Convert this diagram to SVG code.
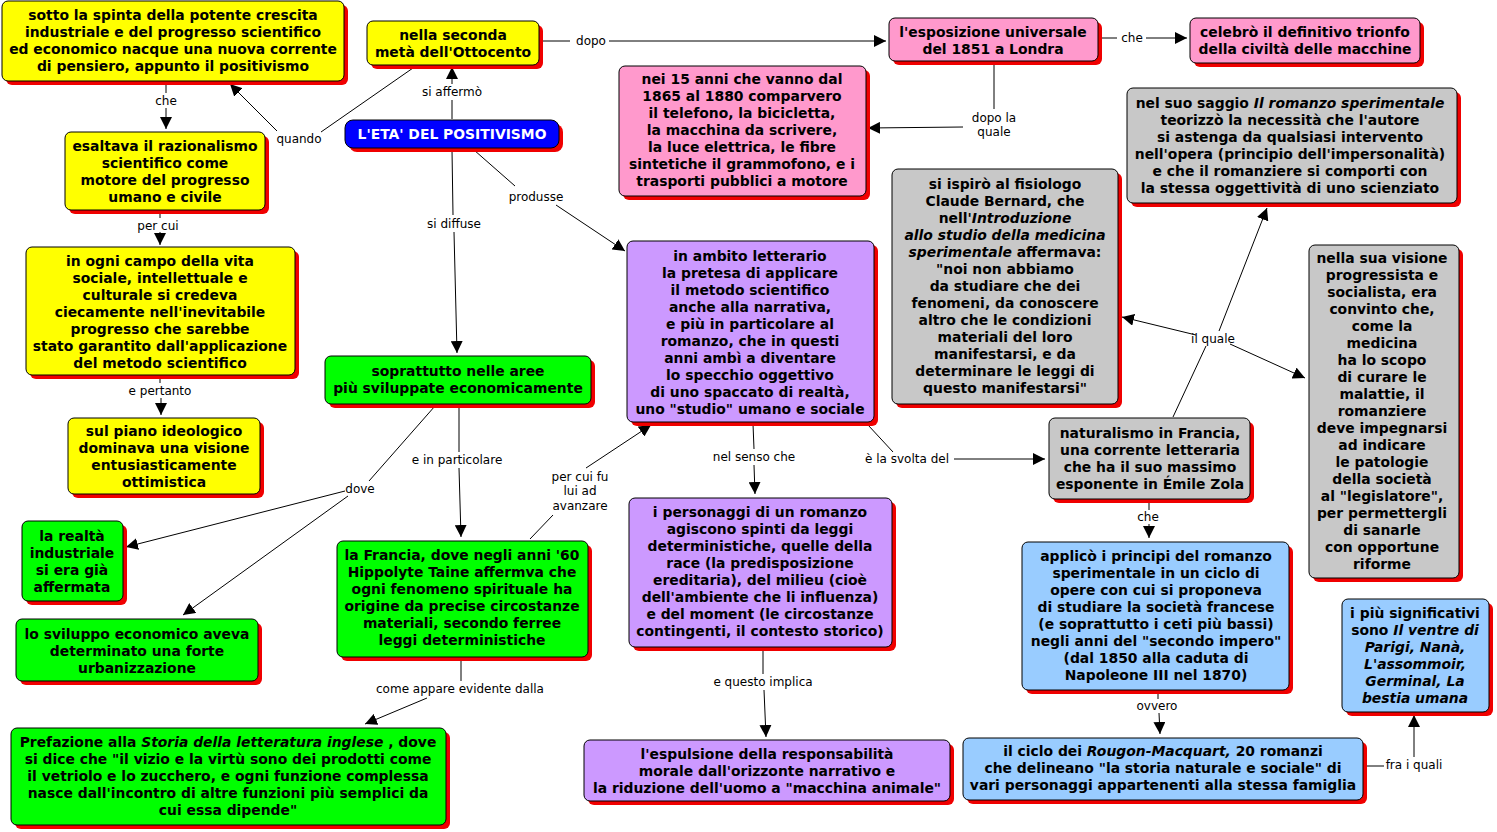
<svg xmlns="http://www.w3.org/2000/svg" width="1497" height="832" viewBox="0 0 1497 832">
<style>
.b{stroke:#000;stroke-width:1}
.s{fill:#f00000}
.y{fill:#ffff00}.p{fill:#ff99cc}.g{fill:#c8c8c8}.v{fill:#cc99ff}.gr{fill:#00ff00}.lb{fill:#99ccff}
.t{font-family:"DejaVu Sans",Verdana,sans-serif;font-weight:bold;font-size:13.9px;text-anchor:middle;fill:#000}
.l{font-family:"DejaVu Sans",Verdana,sans-serif;font-size:12px;text-anchor:middle;fill:#000}
.c{fill:none;stroke:#000;stroke-width:1}
.i{font-style:italic}
</style>
<defs>
<marker id="a" markerUnits="userSpaceOnUse" markerWidth="12" markerHeight="12" viewBox="0 0 10 10" refX="10" refY="5" orient="auto"><path d="M0,0 L10,5 L0,10 z" fill="#000"/></marker>
</defs>
<rect width="1497" height="832" fill="#fff"/>
<g id="connectors">
<path class="c" d="M166,83 V93"/><path class="c" d="M166,108 V129" marker-end="url(#a)"/><text class="l" x="166" y="105">che</text>
<path class="c" d="M160,212 V218"/><path class="c" d="M160,232 V245" marker-end="url(#a)"/><text class="l" x="158" y="230">per cui</text>
<path class="c" d="M160,377 V383"/><path class="c" d="M161,398 V415" marker-end="url(#a)"/><text class="l" x="160" y="395">e pertanto</text>
<path class="c" d="M452,119 V100"/><path class="c" d="M452,84 V67" marker-end="url(#a)"/><text class="l" x="452" y="96">si affermò</text>
<path class="c" d="M413,68 L321,132"/><path class="c" d="M277,131 L230,84" marker-end="url(#a)"/><text class="l" x="299" y="143">quando</text>
<path class="c" d="M540,41 H570"/><path class="c" d="M609,41 H886" marker-end="url(#a)"/><text class="l" x="591" y="45">dopo</text>
<path class="c" d="M1100,38 H1117"/><path class="c" d="M1146,38 H1187" marker-end="url(#a)"/><text class="l" x="1132" y="42">che</text>
<path class="c" d="M994,63 V109"/><path class="c" d="M963,127 L868,128" marker-end="url(#a)"/><text class="l" x="994" y="122">dopo la</text><text class="l" x="994" y="136">quale</text>
<path class="c" d="M474,150 L515,186"/><path class="c" d="M556,205 L625,251" marker-end="url(#a)"/><text class="l" x="536" y="201">produsse</text>
<path class="c" d="M452,150 L453,215"/><path class="c" d="M454,232 L457,353" marker-end="url(#a)"/><text class="l" x="454" y="228">si diffuse</text>
<path class="c" d="M435,406 L369,481"/><path class="c" d="M345,491 L126,547" marker-end="url(#a)"/><path class="c" d="M348,496 L183,615" marker-end="url(#a)"/><text class="l" x="360" y="493">dove</text>
<path class="c" d="M459,406 L459,452"/><path class="c" d="M459,468 L461,537" marker-end="url(#a)"/><text class="l" x="457" y="464">e in particolare</text>
<path class="c" d="M530,539 L553,515"/><path class="c" d="M586,468 L651,425" marker-end="url(#a)"/><text class="l" x="580" y="481">per cui fu</text><text class="l" x="580" y="495">lui ad</text><text class="l" x="580" y="510">avanzare</text>
<path class="c" d="M753,424 L754,449"/><path class="c" d="M754,465 L755,494" marker-end="url(#a)"/><text class="l" x="754" y="461">nel senso che</text>
<path class="c" d="M868,425 L893,452"/><path class="c" d="M954,459 H1045" marker-end="url(#a)"/><text class="l" x="907" y="463">è la svolta del</text>
<path class="c" d="M763,650 L763,674"/><path class="c" d="M764,690 L766,737" marker-end="url(#a)"/><text class="l" x="763" y="686">e questo implica</text>
<path class="c" d="M461,659 L461,681"/><path class="c" d="M427,698 L365,724" marker-end="url(#a)"/><text class="l" x="460" y="693">come appare evidente dalla</text>
<path class="c" d="M1173,417 L1206,346"/><path class="c" d="M1219,331 L1267,208" marker-end="url(#a)"/><path class="c" d="M1196,335 L1122,317" marker-end="url(#a)"/><path class="c" d="M1230,344 L1305,378" marker-end="url(#a)"/><text class="l" x="1213" y="343">il quale</text>
<path class="c" d="M1149,501 V510"/><path class="c" d="M1149,524 V538" marker-end="url(#a)"/><text class="l" x="1148" y="521">che</text>
<path class="c" d="M1158,692 V699"/><path class="c" d="M1159,713 L1160,734" marker-end="url(#a)"/><text class="l" x="1157" y="710">ovvero</text>
<path class="c" d="M1364,766 H1384"/><path class="c" d="M1414,757 V715" marker-end="url(#a)"/><text class="l" x="1414" y="769">fra i quali</text>
</g>
<g id="n_sotto"><rect class="s" x="6" y="5" width="342" height="80" rx="6"/><rect class="b y" x="2" y="1" width="342" height="80" rx="6"/><text class="t" x="173" y="20">sotto la spinta della potente crescita<tspan x="173" y="37">industriale e del progresso scientifico</tspan><tspan x="173" y="54">ed economico nacque una nuova corrente</tspan><tspan x="173" y="71">di pensiero, appunto il positivismo</tspan></text></g>
<g id="n_nella"><rect class="s" x="371" y="25" width="172" height="44" rx="6"/><rect class="b y" x="367" y="21" width="172" height="44" rx="6"/><text class="t" x="453" y="40">nella seconda<tspan x="453" y="57">metà dell'Ottocento</tspan></text></g>
<g id="n_eta"><rect class="s" x="349" y="124" width="214" height="28" rx="8"/><rect class="b" fill="#0000ff" x="345" y="120" width="214" height="28" rx="8"/><text class="t" x="452" y="139" style="fill:#fff">L'ETA' DEL POSITIVISMO</text></g>
<g id="n_esalt"><rect class="s" x="69" y="136" width="200" height="78" rx="6"/><rect class="b y" x="65" y="132" width="200" height="78" rx="6"/><text class="t" x="165" y="151">esaltava il razionalismo<tspan x="165" y="168">scientifico come</tspan><tspan x="165" y="185">motore del progresso</tspan><tspan x="165" y="202">umano e civile</tspan></text></g>
<g id="n_ogni"><rect class="s" x="30" y="251" width="269" height="128" rx="6"/><rect class="b y" x="26" y="247" width="269" height="128" rx="6"/><text class="t" x="160" y="266">in ogni campo della vita<tspan x="160" y="283">sociale, intellettuale e</tspan><tspan x="160" y="300">culturale si credeva</tspan><tspan x="160" y="317">ciecamente nell'inevitabile</tspan><tspan x="160" y="334">progresso che sarebbe</tspan><tspan x="160" y="351">stato garantito dall'applicazione</tspan><tspan x="160" y="368">del metodo scientifico</tspan></text></g>
<g id="n_sul"><rect class="s" x="72" y="422" width="192" height="76" rx="6"/><rect class="b y" x="68" y="418" width="192" height="76" rx="6"/><text class="t" x="164" y="436">sul piano ideologico<tspan x="164" y="453">dominava una visione</tspan><tspan x="164" y="470">entusiasticamente</tspan><tspan x="164" y="487">ottimistica</tspan></text></g>
<g id="n_espo"><rect class="s" x="893" y="22" width="209" height="43" rx="6"/><rect class="b p" x="889" y="18" width="209" height="43" rx="6"/><text class="t" x="993" y="37">l'esposizione universale<tspan x="993" y="54">del 1851 a Londra</tspan></text></g>
<g id="n_celebro"><rect class="s" x="1194" y="22" width="230" height="45" rx="6"/><rect class="b p" x="1190" y="18" width="230" height="45" rx="6"/><text class="t" x="1305" y="37">celebrò il definitivo trionfo<tspan x="1305" y="54">della civiltà delle macchine</tspan></text></g>
<g id="n_nei"><rect class="s" x="623" y="70" width="247" height="130" rx="6"/><rect class="b p" x="619" y="66" width="247" height="130" rx="6"/><text class="t" x="742" y="84">nei 15 anni che vanno dal<tspan x="742" y="101">1865 al 1880 comparvero</tspan><tspan x="742" y="118">il  telefono, la bicicletta,</tspan><tspan x="742" y="135">la macchina da scrivere,</tspan><tspan x="742" y="152">la luce elettrica, le fibre</tspan><tspan x="742" y="169">sintetiche il grammofono,  e i</tspan><tspan x="742" y="186">trasporti pubblici a motore</tspan></text></g>
<g id="n_saggio"><rect class="s" x="1131" y="92" width="330" height="115" rx="6"/><rect class="b g" x="1127" y="88" width="330" height="115" rx="6"/><text class="t" x="1290" y="108">nel suo saggio <tspan class="i">Il romanzo sperimentale</tspan><tspan x="1290" y="125">teorizzò la necessità che l'autore</tspan><tspan x="1290" y="142">si astenga da qualsiasi intervento</tspan><tspan x="1290" y="159">nell'opera (principio dell'impersonalità)</tspan><tspan x="1290" y="176">e che il romanziere si comporti con</tspan><tspan x="1290" y="193">la stessa oggettività di uno scienziato</tspan></text></g>
<g id="n_ispiro"><rect class="s" x="896" y="173" width="226" height="235" rx="6"/><rect class="b g" x="892" y="169" width="226" height="235" rx="6"/><text class="t" x="1005" y="189">si  ispirò al fisiologo<tspan x="1005" y="206">Claude Bernard, che</tspan><tspan x="1005" y="223">nell'<tspan class="i">Introduzione</tspan></tspan><tspan x="1005" y="240" class="i">allo studio della medicina</tspan><tspan x="1005" y="257"><tspan class="i">sperimentale</tspan>  affermava:</tspan><tspan x="1005" y="274">"noi non abbiamo</tspan><tspan x="1005" y="291">da studiare che dei</tspan><tspan x="1005" y="308">fenomeni, da conoscere</tspan><tspan x="1005" y="325">altro che le condizioni</tspan><tspan x="1005" y="342">materiali del loro</tspan><tspan x="1005" y="359">manifestarsi, e da</tspan><tspan x="1005" y="376">determinare le leggi di</tspan><tspan x="1005" y="393">questo manifestarsi"</tspan></text></g>
<g id="n_visione"><rect class="s" x="1313" y="249" width="150" height="333" rx="6"/><rect class="b g" x="1309" y="245" width="150" height="333" rx="6"/><text class="t" x="1382" y="263">nella sua visione<tspan x="1382" y="280">progressista e</tspan><tspan x="1382" y="297">socialista, era</tspan><tspan x="1382" y="314">convinto che,</tspan><tspan x="1382" y="331">come la</tspan><tspan x="1382" y="348">medicina</tspan><tspan x="1382" y="365">ha lo scopo</tspan><tspan x="1382" y="382">di curare le</tspan><tspan x="1382" y="399">malattie, il</tspan><tspan x="1382" y="416">romanziere</tspan><tspan x="1382" y="433">deve impegnarsi</tspan><tspan x="1382" y="450">ad indicare</tspan><tspan x="1382" y="467">le patologie</tspan><tspan x="1382" y="484">della società</tspan><tspan x="1382" y="501">al "legislatore",</tspan><tspan x="1382" y="518">per permettergli</tspan><tspan x="1382" y="535">di sanarle</tspan><tspan x="1382" y="552">con opportune</tspan><tspan x="1382" y="569">riforme</tspan></text></g>
<g id="n_ambito"><rect class="s" x="631" y="245" width="247" height="181" rx="6"/><rect class="b v" x="627" y="241" width="247" height="181" rx="6"/><text class="t" x="750" y="261">in ambito letterario<tspan x="750" y="278">la pretesa di applicare</tspan><tspan x="750" y="295">il metodo scientifico</tspan><tspan x="750" y="312">anche alla narrativa,</tspan><tspan x="750" y="329">e più in particolare al</tspan><tspan x="750" y="346">romanzo, che in questi</tspan><tspan x="750" y="363">anni ambì a diventare</tspan><tspan x="750" y="380">lo specchio oggettivo</tspan><tspan x="750" y="397">di uno spaccato di realtà,</tspan><tspan x="750" y="414">uno "studio" umano e sociale</tspan></text></g>
<g id="n_soprat"><rect class="s" x="329" y="360" width="266" height="48" rx="6"/><rect class="b gr" x="325" y="356" width="266" height="48" rx="6"/><text class="t" x="458" y="376">soprattutto nelle aree<tspan x="458" y="393">più sviluppate economicamente</tspan></text></g>
<g id="n_natur"><rect class="s" x="1053" y="422" width="201" height="81" rx="6"/><rect class="b g" x="1049" y="418" width="201" height="81" rx="6"/><text class="t" x="1150" y="438">naturalismo in Francia,<tspan x="1150" y="455">una corrente letteraria</tspan><tspan x="1150" y="472">che ha il suo massimo</tspan><tspan x="1150" y="489">esponente in Émile Zola</tspan></text></g>
<g id="n_realta"><rect class="s" x="26" y="525" width="101" height="80" rx="6"/><rect class="b gr" x="22" y="521" width="101" height="80" rx="6"/><text class="t" x="72" y="541">la realtà<tspan x="72" y="558">industriale</tspan><tspan x="72" y="575">si era già</tspan><tspan x="72" y="592">affermata</tspan></text></g>
<g id="n_svil"><rect class="s" x="20" y="623" width="242" height="62" rx="6"/><rect class="b gr" x="16" y="619" width="242" height="62" rx="6"/><text class="t" x="137" y="639">lo sviluppo economico aveva<tspan x="137" y="656">determinato una forte</tspan><tspan x="137" y="673">urbanizzazione</tspan></text></g>
<g id="n_francia"><rect class="s" x="341" y="545" width="251" height="116" rx="6"/><rect class="b gr" x="337" y="541" width="251" height="116" rx="6"/><text class="t" x="462" y="560">la Francia, dove negli anni '60<tspan x="462" y="577">Hippolyte Taine affermva che</tspan><tspan x="462" y="594">ogni fenomeno spirituale ha</tspan><tspan x="462" y="611">origine da precise circostanze</tspan><tspan x="462" y="628">materiali, secondo ferree</tspan><tspan x="462" y="645">leggi deterministiche</tspan></text></g>
<g id="n_perso"><rect class="s" x="633" y="502" width="263" height="149" rx="6"/><rect class="b v" x="629" y="498" width="263" height="149" rx="6"/><text class="t" x="760" y="517">i personaggi di un romanzo<tspan x="760" y="534">agiscono spinti da leggi</tspan><tspan x="760" y="551">deterministiche, quelle della</tspan><tspan x="760" y="568">race (la predisposizione</tspan><tspan x="760" y="585">ereditaria), del milieu (cioè</tspan><tspan x="760" y="602">dell'ambiente che li influenza)</tspan><tspan x="760" y="619">e del moment (le circostanze</tspan><tspan x="760" y="636">contingenti, il contesto storico)</tspan></text></g>
<g id="n_applico"><rect class="s" x="1026" y="546" width="267" height="148" rx="6"/><rect class="b lb" x="1022" y="542" width="267" height="148" rx="6"/><text class="t" x="1156" y="561">applicò i principi del romanzo<tspan x="1156" y="578">sperimentale in un ciclo di</tspan><tspan x="1156" y="595">opere con cui si proponeva</tspan><tspan x="1156" y="612">di studiare la società francese</tspan><tspan x="1156" y="629">(e soprattutto i ceti più bassi)</tspan><tspan x="1156" y="646">negli anni del "secondo impero"</tspan><tspan x="1156" y="663">(dal 1850 alla caduta di</tspan><tspan x="1156" y="680">Napoleone III nel 1870)</tspan></text></g>
<g id="n_piusign"><rect class="s" x="1346" y="603" width="147" height="113" rx="6"/><rect class="b lb" x="1342" y="599" width="147" height="113" rx="6"/><text class="t" x="1415" y="618">i più significativi<tspan x="1415" y="635">sono <tspan class="i">Il ventre di</tspan></tspan><tspan x="1415" y="652" class="i">Parigi, Nanà,</tspan><tspan x="1415" y="669" class="i">L'assommoir,</tspan><tspan x="1415" y="686" class="i">Germinal, La</tspan><tspan x="1415" y="703" class="i">bestia umana</tspan></text></g>
<g id="n_prefaz"><rect class="s" x="15" y="732" width="435" height="97" rx="6"/><rect class="b gr" x="11" y="728" width="435" height="97" rx="6"/><text class="t" x="228" y="747">Prefazione alla <tspan class="i">Storia della letteratura inglese</tspan> , dove<tspan x="228" y="764">si dice che "il vizio e la virtù sono dei prodotti come</tspan><tspan x="228" y="781">il vetriolo e lo zucchero, e ogni funzione complessa</tspan><tspan x="228" y="798">nasce dall'incontro di altre funzioni più semplici da</tspan><tspan x="228" y="815">cui essa dipende"</tspan></text></g>
<g id="n_espul"><rect class="s" x="588" y="744" width="366" height="61" rx="6"/><rect class="b v" x="584" y="740" width="366" height="61" rx="6"/><text class="t" x="767" y="759">l'espulsione della responsabilità<tspan x="767" y="776">morale dall'orizzonte narrativo e</tspan><tspan x="767" y="793">la riduzione dell'uomo a "macchina animale"</tspan></text></g>
<g id="n_ciclo"><rect class="s" x="967" y="742" width="400" height="62" rx="6"/><rect class="b lb" x="963" y="738" width="400" height="62" rx="6"/><text class="t" x="1163" y="756">il ciclo dei <tspan class="i">Rougon-Macquart,</tspan> 20 romanzi<tspan x="1163" y="773">che delineano "la storia naturale e sociale" di</tspan><tspan x="1163" y="790">vari personaggi appartenenti alla stessa famiglia</tspan></text></g>
</svg>
